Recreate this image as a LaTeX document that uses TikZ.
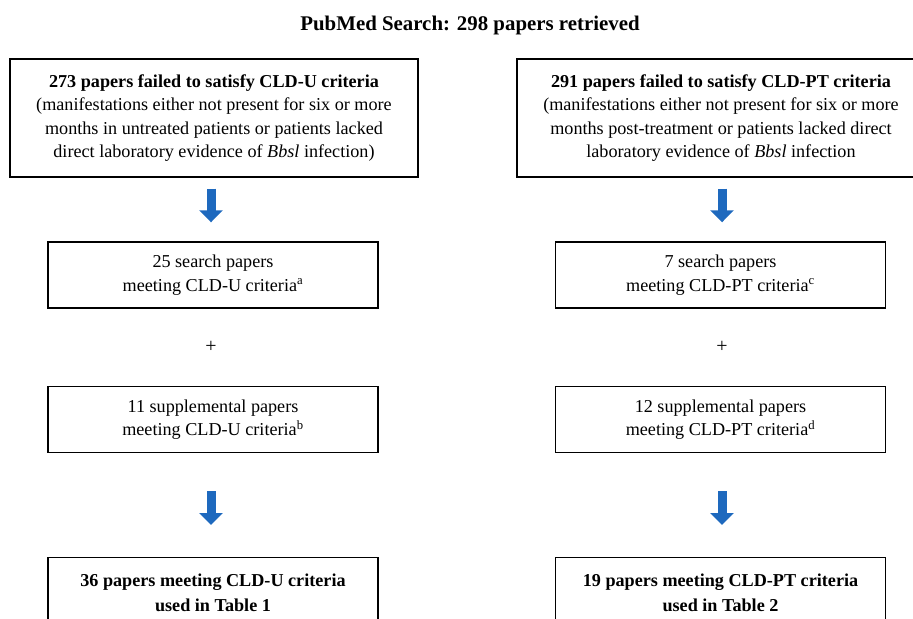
\documentclass[tikz,border=0pt]{standalone}
\usepackage{fontspec}
\setmainfont{Liberation Serif}
\usepackage{xcolor}
\usepackage{tikz}
\usetikzlibrary{arrows.meta,positioning,calc}
\definecolor{flowblue}{RGB}{30,105,190}
\newcommand\boxfont{\fontsize{15.5}{20}\selectfont}
\newcommand\headfont{\fontsize{17.8}{20}\selectfont\bfseries}

\begin{document}
\begin{tikzpicture}[
  box/.style={draw=black,line width=1.2pt,align=center,inner sep=0pt,
              minimum width=9.9cm,minimum height=1.98cm,font=\boxfont},
  widebox/.style={box,minimum width=12.24cm,minimum height=3.54cm},
  lastbox/.style={box,minimum height=2.1cm,anchor=north,
                  font=\fontsize{15.5}{22}\selectfont\bfseries},
  hdr/.style={font=\headfont},
  plusmark/.style={font=\fontsize{17}{20}\selectfont},
  flow/.style={line width=0.27cm,draw=flowblue,
               -{Triangle[width=0.69cm,length=0.36cm]},
               shorten <=0.33cm,shorten >=0.57cm},
]
\clip (0,0) rectangle (27.39,-18.57);

%% Title
\node[hdr] (search) at (14.1,-0.75) {PubMed Search: 298 papers retrieved};

%% Left column: CLD-U
\node[widebox] (failU) at (6.42,-3.54)
  {\textbf{273 papers failed to satisfy CLD-U criteria}\\
   (manifestations either not present for six or more\\
   months in untreated patients or patients lacked\\
   direct laboratory evidence of \textit{Bbsl} infection)};
\node[box] (searchU) at (6.39,-8.25)
  {25 search papers\\ meeting CLD-U criteria\textsuperscript{a}};
\node[plusmark] (plusU) at (6.33,-10.41) {+};
\node[box] (suppU) at (6.39,-12.585)
  {11 supplemental papers\\ meeting CLD-U criteria\textsuperscript{b}};
\node[lastbox] (tableU) at (6.39,-16.71)
  {36 papers meeting CLD-U criteria\\ used in Table 1};

%% Right column: CLD-PT
\node[widebox] (failPT) at (21.63,-3.54)
  {\textbf{291 papers failed to satisfy CLD-PT criteria}\\
   (manifestations either not present for six or more\\
   months post-treatment or patients lacked direct\\
   laboratory evidence of \textit{Bbsl} infection};
\node[box] (searchPT) at (21.615,-8.25)
  {7 search papers\\ meeting CLD-PT criteria\textsuperscript{c}};
\node[plusmark] (plusPT) at (21.66,-10.41) {+};
\node[box] (suppPT) at (21.615,-12.585)
  {12 supplemental papers\\ meeting CLD-PT criteria\textsuperscript{d}};
\node[lastbox] (tablePT) at (21.615,-16.71)
  {19 papers meeting CLD-PT criteria\\ used in Table 2};

%% Block arrows
\draw[flow] (failU.south -| plusU) -- (searchU.north -| plusU);
\draw[flow] (failPT.south -| plusPT) -- (searchPT.north -| plusPT);
\draw[flow,shorten <=1.14cm,shorten >=0.96cm]
  (suppU.south -| plusU) -- (tableU.north -| plusU);
\draw[flow,shorten <=1.14cm,shorten >=0.96cm]
  (suppPT.south -| plusPT) -- (tablePT.north -| plusPT);

\end{tikzpicture}
\end{document}
